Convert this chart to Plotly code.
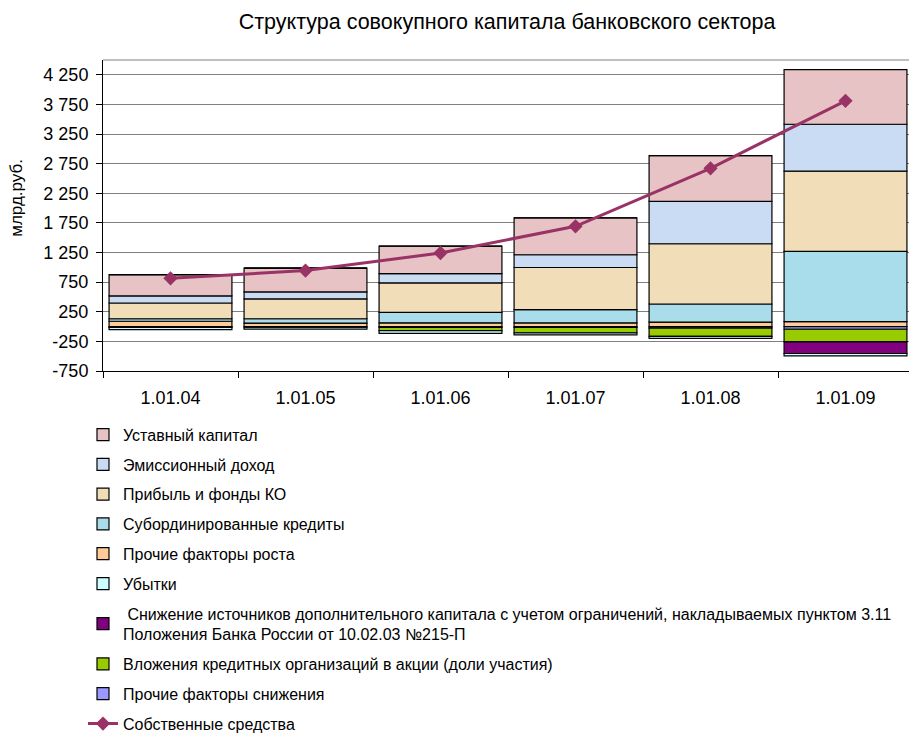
import plotly.graph_objects as go

dates = ["1.01.04", "1.01.05", "1.01.06", "1.01.07", "1.01.08", "1.01.09"]

# positive components, млрд руб.
ustavny = [361, 401, 464, 622, 770, 921]
emission = [119, 119, 158, 215, 717, 791]
profit = [266, 334, 496, 712, 1017, 1356]
subord = [42, 73, 177, 223, 305, 1183]
other_growth = [90, 59, 64, 62, 76, 85]

# negative components
losses = [-35, -25, -45, -35, -35, -40]
reduction_311 = [0, 0, 0, 0, 0, -195]
shares = [0, 0, -55, -90, -140, -215]
other_decrease = [-15, -20, -15, -15, -25, -45]

own_funds = [814, 946, 1242, 1693, 2672, 3811]

y_tickvals = [-750, -250, 250, 750, 1250, 1750, 2250, 2750, 3250, 3750, 4250]
y_ticktext = ["-750", "-250", "250", "750", "1 250", "1 750", "2 250", "2 750",
              "3 250", "3 750", "4 250"]

FONT = "Arial, Liberation Sans, sans-serif"

# (name, values, colour, legend rank) in stacking order (bottom first)
bar_series = [
    ("Прочие факторы роста", other_growth, "#FFCC99", 5),
    ("Субординированные кредиты", subord, "#A9DDEB", 4),
    ("Прибыль и фонды КО", profit, "#F1DEB8", 3),
    ("Эмиссионный доход", emission, "#C9DCF4", 2),
    ("Уставный капитал", ustavny, "#E8C3C6", 1),
    ("Прочие факторы снижения", other_decrease, "#9999FF", 9),
    ("Вложения кредитных организаций в акции (доли участия)", shares, "#99CC00", 8),
    (" Снижение источников дополнительного капитала с учетом ограничений, накладываемых пунктом 3.11"
     "<br>Положения Банка России от 10.02.03 №215-П", reduction_311, "#800080", 7),
    ("Убытки", losses, "#CCFFFF", 6),
]

fig = go.Figure()
for name, vals, color, rank in bar_series:
    fig.add_trace(go.Bar(
        x=dates, y=vals, name=name,
        marker=dict(color=color, line=dict(color="black", width=1.2)),
        legendrank=rank, legendgroup=name,
    ))

fig.add_trace(go.Scatter(
    x=dates, y=own_funds, name="Собственные средства",
    mode="lines+markers",
    line=dict(color="#993366", width=3),
    marker=dict(symbol="diamond", size=11, color="#993366"),
    legendrank=10, legendgroup="own",
))

fig.add_shape(type="line", xref="paper", yref="paper", x0=0, x1=1, y0=1, y1=1,
              line=dict(color="#808080", width=1))

# y axis title as a rotated annotation (page has an 8px body margin)
fig.add_annotation(text="млрд.руб.", xref="paper", yref="paper",
                   x=-0.122, y=0.556, textangle=-90, showarrow=False,
                   font=dict(size=17))

fig.update_layout(
    barmode="relative",
    bargap=0.09,
    width=909, height=725,
    paper_bgcolor="white", plot_bgcolor="white",
    font=dict(family=FONT, color="black", size=16),
    title=dict(text="Структура совокупного капитала банковского сектора",
               font=dict(size=21.5), x=0.549, xanchor="center", y=0.981, yanchor="middle"),
    margin=dict(l=95, r=4, t=52, b=362, autoexpand=False),
    xaxis=dict(
        showgrid=False, showline=True, linecolor="black", linewidth=1,
        ticks="outside", tickson="boundaries", ticklen=6, tickcolor="black",
        tickfont=dict(size=18), automargin=False, ticklabelstandoff=10,
    ),
    yaxis=dict(
        range=[-750, 4500], tickvals=y_tickvals, ticktext=y_ticktext,
        showgrid=True, gridcolor="#808080", gridwidth=1, zeroline=False,
        showline=True, linecolor="black", linewidth=1,
        ticks="outside", ticklen=6, tickcolor="black",
        tickfont=dict(size=18), automargin=False, ticklabelstandoff=4,
    ),
    showlegend=True,
    legend=dict(
        orientation="v", traceorder="grouped", tracegroupgap=6,
        xref="container", yref="container",
        x=0.0825, xanchor="left", y=0.435, yanchor="top",
        font=dict(size=16), bgcolor="rgba(0,0,0,0)",
    ),
)

fig.write_html("out.html")
